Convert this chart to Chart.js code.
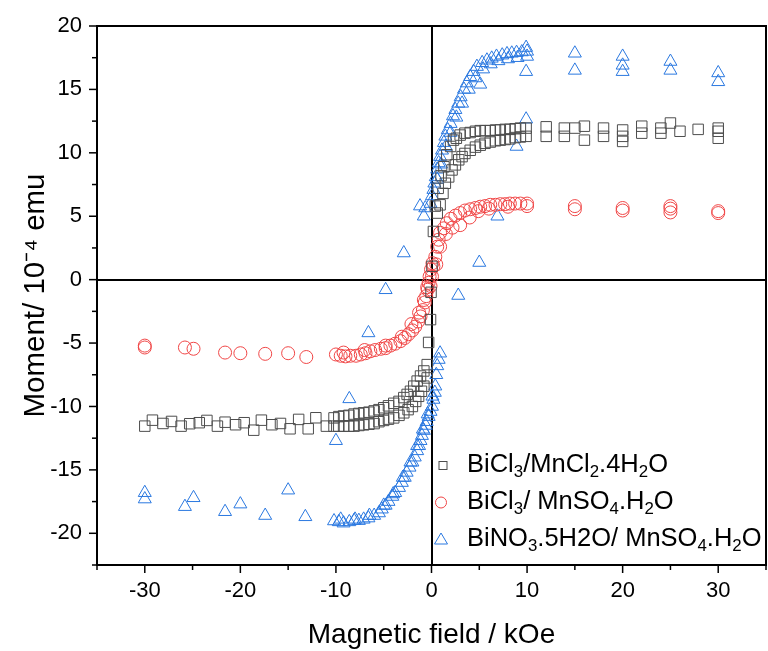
<!doctype html>
<html lang="en">
<head>
<meta charset="utf-8">
<title>Moment vs magnetic field</title>
<script src="https://cdn.jsdelivr.net/npm/chart.js@4.4.1/dist/chart.umd.min.js"></script>
<style>
  body { margin: 0; background: #fff; }
  #wrap { position: relative; width: 768px; height: 651px; }
  #legend { position: absolute; left: 432px; top: 445px; font: 25.5px "Liberation Sans", Arial, sans-serif; color: #000; }
  #legend div { height: 37px; line-height: 37px; white-space: nowrap; }
  #legend svg { vertical-align: middle; margin-right: 11px; }
  sub { font-size: 66%; vertical-align: -0.32em; line-height: 0; }
</style>
</head>
<body>
<div id="wrap">
  <canvas id="chart" width="768" height="651"></canvas>
  <div id="legend">
    <div><svg width="24" height="20"><rect x="7" y="6.5" width="8" height="8" fill="none" stroke="#4d4d4d" stroke-width="1"/></svg>BiCl<sub>3</sub>/MnCl<sub>2</sub>.4H<sub>2</sub>O</div>
    <div><svg width="24" height="20"><circle cx="9" cy="10.5" r="5.5" fill="none" stroke="#f04646" stroke-width="1"/></svg>BiCl<sub>3</sub>/ MnSO<sub>4</sub>.H<sub>2</sub>O</div>
    <div><svg width="24" height="20"><polygon points="9,4 15.5,15 2.5,15" fill="none" stroke="#2a78e0" stroke-width="1"/></svg>BiNO<sub>3</sub>.5H2O/ MnSO<sub>4</sub>.H<sub>2</sub>O</div>
  </div>
</div>
<script>
// axis ticks
var xMajor = [-30, -20, -10, 0, 10, 20, 30];
var yMajor = [-20, -15, -10, -5, 0, 5, 10, 15, 20];

// BiCl3/MnCl2.4H2O (squares)
var sqField = [-30.0,-29.2,-28.1,-27.2,-26.2,-25.3,-24.3,-23.5,-22.4,-21.6,-20.5,-19.6,-18.6,-17.8,-16.7,-15.8,-14.8,-13.9,-12.9,-12.1,-11.0,
  -10.2,-9.7,-9.2,-8.65,-8.1,-7.6,-7.1,-6.55,-6.0,-5.5,-5.0,-4.5,-3.95,-3.4,-2.9,-2.55,-2.2,-1.85,-1.5,-1.15,-0.8,-0.45,
  -10.2,-9.7,-9.2,-8.65,-8.1,-7.6,-7.1,-6.55,-6.0,-5.5,-5.0,-4.5,-3.95,-3.4,-2.9,-2.45,-2.0,-1.65,-1.35,-1.05,-0.8,-0.45,
  -0.3,-0.1,-0.05,0.05,
  0.4,0.7,1.0,1.3,1.6,2.0,2.3,2.6,3.0,3.5,4.05,4.6,5.1,5.6,6.15,6.7,7.2,7.7,8.2,8.75,9.3,9.9,
  0.2,0.6,0.9,1.2,1.45,1.8,2.15,2.5,2.85,3.2,3.5,4.05,4.6,5.1,5.6,6.15,6.7,7.2,7.7,8.2,8.75,9.3,9.9,
  12.0,12.0,13.9,13.9,15.0,16.0,16.0,18.0,18.0,20.0,20.0,20.0,22.0,22.0,24.0,24.0,25.0,26.0,27.9,30.0,30.0,30.0];
var sqMoment = [-11.55,-11.08,-11.34,-11.18,-11.55,-11.36,-11.28,-11.10,-11.55,-11.24,-11.44,-11.28,-11.87,-11.08,-11.44,-11.34,-11.76,-11.02,-11.76,-10.89,-11.55,
  -10.9,-10.8,-10.75,-10.7,-10.6,-10.55,-10.5,-10.45,-10.35,-10.25,-10.1,-9.95,-9.75,-9.6,-9.3,-9.05,-8.8,-8.4,-8.0,-7.6,-7.2,-6.7,
  -11.55,-11.55,-11.55,-11.55,-11.55,-11.5,-11.45,-11.4,-11.35,-11.2,-11.1,-11.0,-10.9,-10.7,-10.5,-10.25,-10.0,-9.6,-9.2,-8.8,-8.4,-7.75,
  -4.95,-3.15,-1.0,1.05,
  5.8,7.2,8.2,8.9,9.85,10.5,11.0,11.15,11.4,11.55,11.6,11.7,11.75,11.75,11.75,11.8,11.8,11.85,11.85,11.9,11.95,11.95,
  3.8,5.25,5.9,6.8,7.6,8.1,8.65,9.05,9.45,9.7,9.95,10.2,10.45,10.6,10.75,10.85,10.95,11.0,11.05,11.1,11.2,11.25,11.3,
  12.05,11.3,11.95,11.3,11.95,12.1,11.0,11.95,11.3,11.8,11.3,10.9,12.1,11.55,11.95,11.55,12.35,11.7,11.85,11.95,11.7,11.15];

// BiCl3/ MnSO4.H2O (circles)
var ciField = [-30,-30,-25.8,-24.9,-21.6,-20.0,-17.4,-15.0,-13.1,
  -10.0,-9.5,-9.0,-8.5,-7.9,-7.4,-6.9,-6.4,-5.9,-5.3,-4.8,-4.3,-3.8,-3.25,-2.8,-2.4,-2.0,-1.7,-1.4,-1.15,-0.9,-0.7,-0.55,-0.4,-0.3,-0.2,-0.05,0.1,
  -9.2,-7.0,-4.8,-3.1,-2.1,-1.3,-0.8,-0.45,
  -0.1,0.05,0.2,0.4,0.6,0.75,0.9,1.3,1.6,2.0,2.5,3.0,3.5,4.05,4.6,5.1,5.6,6.15,6.7,7.2,7.7,8.2,8.75,9.3,10.0,
  0.5,0.9,1.5,2.2,3.0,4.0,4.9,6.0,8.0,10.0,
  15,15,20,20,25,25,25,30,30];
var ciMoment = [-5.2,-5.35,-5.35,-5.45,-5.75,-5.8,-5.85,-5.8,-6.1,
  -5.9,-6.0,-6.05,-6.0,-6.0,-5.9,-5.8,-5.65,-5.55,-5.45,-5.4,-5.2,-5.05,-4.85,-4.6,-4.3,-4.0,-3.7,-3.3,-2.9,-2.4,-1.8,-1.3,-0.8,-0.25,0.25,0.8,1.3,
  -5.75,-5.55,-5.2,-4.5,-3.5,-2.6,-1.6,-0.6,
  -0.5,0.25,1.05,1.8,2.6,3.15,3.7,4.05,4.45,4.8,5.05,5.25,5.45,5.55,5.65,5.75,5.8,5.9,5.9,5.95,5.95,6.0,6.0,6.0,6.0,
  1.2,2.6,3.6,4.1,4.3,4.9,5.4,5.6,5.75,5.8,
  5.8,5.55,5.65,5.45,5.8,5.6,5.3,5.4,5.25];

// BiNO3.5H2O/ MnSO4.H2O (triangles)
var trField = [-30,-30,-25.8,-24.9,-21.6,-20.0,-17.4,-15.0,-13.2,-10.0,-8.6,-6.6,-4.8,-2.9,-0.8,2.8,5.0,6.9,8.9,9.9,9.9,9.9,5.1,15,15,20,20,20,25,25,30,30,
  -10.2,-9.7,-9.2,-8.6,-8.1,-7.6,-7.1,-6.6,-6.0,-5.5,-5.2,-4.8,-4.5,-4.1,-3.8,-3.4,-3.1,-2.8,-2.6,-2.3,-2.0,-1.75,-1.5,-1.3,-1.15,-1.0,-0.8,-0.6,-0.5,-0.3,-0.1,0.05,0.2,0.35,0.4,0.5,0.6,0.75,0.9,
  -9.5,-8.0,-6.5,-5.0,-4.0,-3.0,-2.2,-1.5,-0.9,-0.4,0.1,
  -1.2,-0.65,-0.1,0.05,0.2,0.3,0.45,0.6,0.75,0.9,1.1,1.3,1.45,1.7,2.0,2.25,2.5,2.8,3.05,3.4,3.7,4.05,4.4,4.75,5.3,5.8,6.3,6.8,7.4,7.9,8.4,8.9,9.45,10.0,
  0.6,1.0,1.5,2.0,2.6,3.2,3.9,4.6,5.4,6.2,7.0,8.0,9.0,10.0];
var trMoment = [-16.8,-17.3,-17.9,-17.2,-18.3,-17.7,-18.6,-16.6,-18.7,-12.7,-9.4,-4.2,-0.8,2.1,5.0,-1.25,1.35,5.0,10.5,12.65,16.4,18.3,15.4,17.85,16.5,17.6,16.9,16.4,17.2,16.5,16.3,15.6,
  -19.03,-19.1,-19.2,-19.1,-19.0,-19.0,-18.9,-18.8,-18.6,-18.4,-18.1,-17.8,-17.5,-17.1,-16.8,-16.4,-16.0,-15.6,-15.2,-14.8,-14.4,-14.0,-13.5,-13.1,-12.7,-12.3,-11.9,-11.5,-11.2,-10.8,-10.4,-10.0,-9.45,-8.9,-8.4,-7.5,-6.8,-6.3,-5.8,
  -18.9,-18.9,-18.6,-17.8,-16.9,-15.6,-14.4,-13.1,-11.8,-10.6,-9.2,
  5.8,5.65,6.0,6.6,7.1,7.6,8.1,8.7,9.2,9.7,10.2,10.8,11.3,11.8,12.3,12.9,13.4,13.9,14.4,15.0,15.5,16.0,16.4,16.8,17.1,17.3,17.45,17.6,17.7,17.8,17.85,17.9,17.95,18.0,
  7.9,9.1,10.5,11.6,12.8,13.9,15.0,15.9,16.6,17.0,17.25,17.4,17.5,17.6];

function pts(xs, ys) {
  return xs.map(function (x, i) { return { x: x, y: ys[i] }; });
}

var isMajor = function (list, v) { return list.indexOf(Math.round(v * 100) / 100) >= 0; };

// frame on top/right and outward ticks (long on labelled values)
var frameTicks = {
  id: 'frameTicks',
  afterDraw: function (chart) {
    var ctx = chart.ctx, a = chart.chartArea, x = chart.scales.x, y = chart.scales.y;
    ctx.save();
    ctx.strokeStyle = '#000';
    ctx.lineWidth = 2;
    ctx.beginPath();
    ctx.moveTo(a.left, a.top);
    ctx.lineTo(a.right, a.top);
    ctx.lineTo(a.right, a.bottom);
    ctx.stroke();
    ctx.lineWidth = 1.5;
    x.ticks.forEach(function (t) {
      var px = x.getPixelForValue(t.value);
      var len = isMajor(xMajor, t.value) ? 8 : 5;
      ctx.beginPath(); ctx.moveTo(px, a.bottom); ctx.lineTo(px, a.bottom + len); ctx.stroke();
    });
    y.ticks.forEach(function (t) {
      var py = y.getPixelForValue(t.value);
      var len = isMajor(yMajor, t.value) ? 8 : 5;
      ctx.beginPath(); ctx.moveTo(a.left, py); ctx.lineTo(a.left - len, py); ctx.stroke();
    });
    ctx.restore();
  }
};

var font = '"Liberation Sans", Arial, sans-serif';
var zeroColor = function (c) { return c.tick && c.tick.value === 0 ? '#000' : 'rgba(0,0,0,0)'; };

new Chart(document.getElementById('chart'), {
  type: 'scatter',
  data: {
    datasets: [
      { label: 'BiCl3/MnCl2.4H2O', data: pts(sqField, sqMoment), pointStyle: 'rect', pointRadius: 7.4, pointHoverRadius: 7.4,
        borderColor: '#4d4d4d', backgroundColor: 'rgba(0,0,0,0)', borderWidth: 1 },
      { label: 'BiCl3/ MnSO4.H2O', data: pts(ciField, ciMoment), pointStyle: 'circle', pointRadius: 6.5, pointHoverRadius: 6.5,
        borderColor: '#f04646', backgroundColor: 'rgba(0,0,0,0)', borderWidth: 1 },
      { label: 'BiNO3.5H2O/ MnSO4.H2O', data: pts(trField, trMoment), pointStyle: 'triangle', pointRadius: 7.5, pointHoverRadius: 7.5,
        borderColor: '#2a78e0', backgroundColor: 'rgba(0,0,0,0)', borderWidth: 1 }
    ]
  },
  options: {
    responsive: false,
    animation: false,
    events: [],
    layout: { autoPadding: false, padding: { top: 26, right: 2, left: 0, bottom: 0 } },
    plugins: { legend: { display: false }, tooltip: { enabled: false } },
    scales: {
      x: {
        type: 'linear', min: -35, max: 35,
        ticks: { stepSize: 5, autoSkip: false, maxRotation: 0, padding: 1, color: '#000',
          font: { family: font, size: 22 },
          callback: function (v) { return isMajor(xMajor, v) ? String(v) : ''; } },
        grid: { drawTicks: true, tickLength: 12, tickColor: 'rgba(0,0,0,0)', color: zeroColor, lineWidth: 2 },
        border: { color: '#000', width: 2 },
        title: { display: true, text: 'Magnetic field / kOe', color: '#000',
          font: { family: font, size: 28, lineHeight: 1.1 }, padding: { top: 0, bottom: 0 } },
        afterFit: function (s) { s.height = 86; }
      },
      y: {
        type: 'linear', min: -22.5, max: 20,
        ticks: { stepSize: 2.5, autoSkip: false, padding: 1, color: '#000',
          font: { family: font, size: 22 },
          callback: function (v) { return isMajor(yMajor, v) ? String(v) : ''; } },
        grid: { drawTicks: true, tickLength: 14, tickColor: 'rgba(0,0,0,0)', color: zeroColor, lineWidth: 2 },
        border: { color: '#000', width: 2 },
        title: { display: true, text: 'Moment/ 10\u207B\u2074 emu', color: '#000',
          font: { family: font, size: 29.5, lineHeight: 1.1 }, padding: { top: 20, bottom: 0 } },
        afterFit: function (s) { s.width = 97; }
      }
    }
  },
  plugins: [frameTicks]
});
</script>
</body>
</html>
